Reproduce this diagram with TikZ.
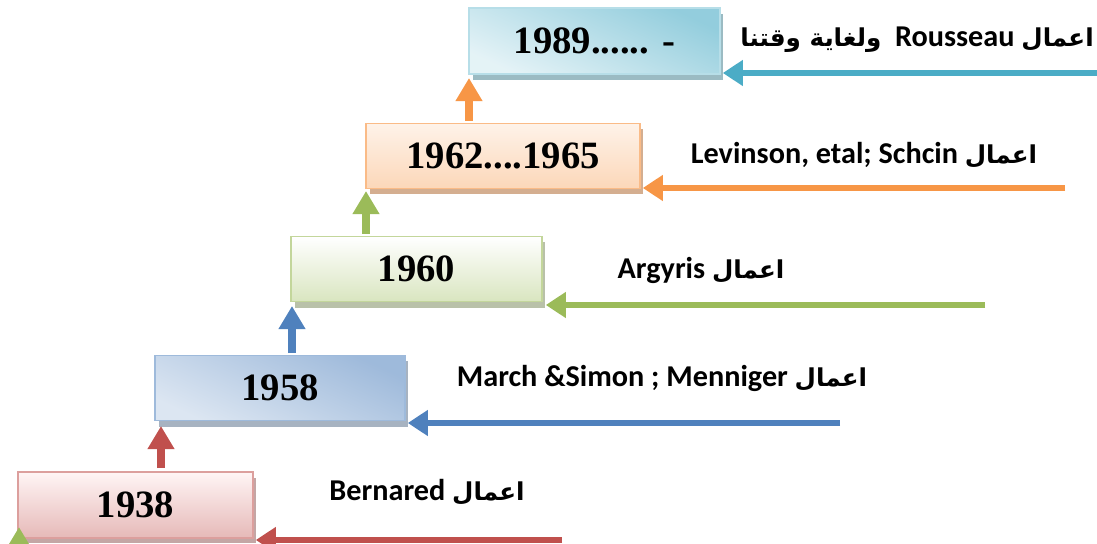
\documentclass[tikz,border=0pt]{standalone}
\usepackage{fontspec}
\usepackage{graphicx}
\setmainfont{Liberation Serif}
\newfontfamily\lat{Carlito}
\newfontfamily\arfont[Script=Arabic]{DejaVu Sans}
\TeXXeTstate=1
\usetikzlibrary{arrows.meta,calc}
\definecolor{cred}{HTML}{C0504D}
\definecolor{cblue}{HTML}{4F81BD}
\definecolor{cgreen}{HTML}{9BBB59}
\definecolor{corange}{HTML}{F79646}
\definecolor{cteal}{HTML}{4BACC6}
\newcommand{\arab}[1]{{\arfont\bfseries\fontsize{17.5}{20}\selectfont\beginR #1\endR}}
\tikzset{
  yearbox/.style={rectangle, inner sep=0pt, font=\fontsize{27.5}{27}\selectfont\bfseries, line width=1.2pt},
  lbl/.style={inner sep=0pt, font=\lat\fontsize{21.5}{24}\selectfont\bfseries},
  harr/.style={line width=3.6pt, -{Triangle[width=0.62cm,length=0.5cm]}},
  varr/.style={line width=6.2pt, -{Triangle[width=0.64cm,length=0.58cm]}},
}
\begin{document}
\begin{tikzpicture}[x=0.025cm,y=-0.025cm]
\clip (0,0) rectangle (1097,544);
\fill[white] (0,0) rectangle (1097,544);
% shadows
\fill[gray!55!cred!60] (22,478) rectangle (256,543);
\fill[gray!60!cblue!60] (159,361) rectangle (408,427);
\fill[gray!60!cgreen!60] (295,242) rectangle (545,308);
\fill[gray!45!corange!70] (370,129) rectangle (643,194);
\fill[gray!50!cteal!65] (473,14) rectangle (723,80);
% boxes
\node[yearbox, draw=cred!55, top color=red!4, bottom color=cred!40, minimum width=235*0.025cm, minimum height=66*0.025cm] (b1938) at (135.5,505) {1938};
\node[yearbox, draw=cblue!55, top color=cblue!55, bottom color=cblue!20, shading angle=-25, minimum width=250*0.025cm, minimum height=65*0.025cm] (b1958) at (280,388) {1958};
\node[yearbox, draw=cgreen!60, top color=white, bottom color=cgreen!38, minimum width=251*0.025cm, minimum height=65*0.025cm] (b1960) at (416.5,269) {1960};
\node[yearbox, draw=corange!65, top color=corange!12, bottom color=corange!38, minimum width=274*0.025cm, minimum height=65*0.025cm] (b1962) at (503,156) {1962....1965};
\node[yearbox, draw=cteal!40, top color=cteal!60, bottom color=cteal!15, shading angle=-25, minimum width=251*0.025cm, minimum height=66*0.025cm] (b1989) at (594.5,41) {1989...... -};
% vertical arrows
\coordinate (v1) at (161,468);
\coordinate (v2) at (292,353);
\coordinate (v3) at (366,234);
\coordinate (v4) at (469,121);
\coordinate (v0) at (19,560);
\draw[varr, cred] (v1) -- (v1 |- 0,426);
\draw[varr, cblue] (v2) -- (v2 |- 0,306);
\draw[varr, cgreen] (v3) -- (v3 |- 0,191);
\draw[varr, corange] (v4) -- (v4 |- 0,78);
\draw[varr, cgreen] (v0) -- (v0 |- 0,527);
% horizontal arrows
\coordinate (h1) at (562,540);
\coordinate (h2) at (840,423);
\coordinate (h3) at (985,305);
\coordinate (h4) at (1065,188);
\coordinate (h5) at (1110,73);
\draw[harr, cred] (h1) -- ($(h1 -| b1938.east)+(2,0)$);
\draw[harr, cblue] (h2) -- ($(h2 -| b1958.east)+(2,0)$);
\draw[harr, cgreen] (h3) -- ($(h3 -| b1960.east)+(3,0)$);
\draw[harr, corange] (h4) -- ($(h4 -| b1962.east)+(2,0)$);
\draw[harr, cteal] (h5) -- ($(h5 -| b1989.east)+(2,0)$);
% labels
\node[lbl] (l1938) at (427,492) {Bernared \arab{اعمال}};
\node[lbl] (l1958) at (662,378) {March \&Simon ; Menniger \arab{اعمال}};
\node[lbl] (l1960) at (701,270) {Argyris \arab{اعمال}};
\node[lbl] (l1962) at (864,155) {Levinson, etal; Schcin \arab{اعمال}};
\node[lbl] (l1989) at (917,40) {\arab{ولغاية وقتنا}\ \ Rousseau \arab{اعمال}};
\end{tikzpicture}
\end{document}
